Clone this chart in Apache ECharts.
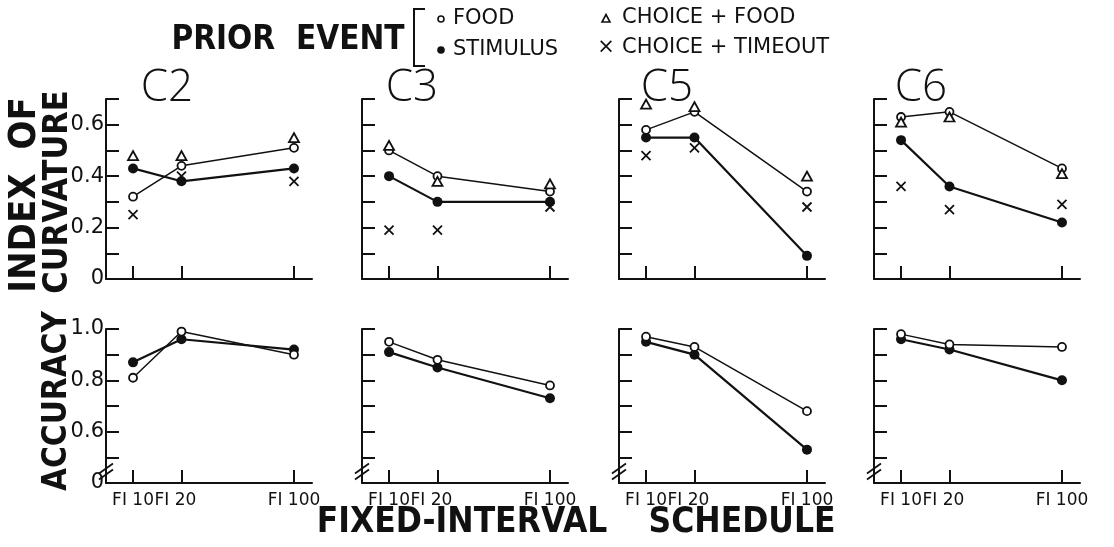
<!DOCTYPE html>
<html>
<head>
<meta charset="utf-8">
<script src="https://cdn.jsdelivr.net/npm/echarts@6/dist/echarts.min.js"></script>
<style>
  html, body { margin: 0; padding: 0; background: #fff; }
  #chart { width: 1114px; height: 547px; }
</style>
</head>
<body>
<div id="chart"></div>
<script>
// Fixed-interval schedules (seconds) and their tick labels
const schedules = [10, 20, 100];
const scheduleLabels = ['FI 10', 'FI 20', 'FI 100'];
const subjects = ['C2', 'C3', 'C5', 'C6'];

// Index of curvature by prior event, one row per subject (FI 10, FI 20, FI 100)
const curvFood = [[0.32, 0.44, 0.51], [0.50, 0.40, 0.34], [0.58, 0.65, 0.34], [0.63, 0.65, 0.43]];
const curvStimulus = [[0.43, 0.38, 0.43], [0.40, 0.30, 0.30], [0.55, 0.55, 0.09], [0.54, 0.36, 0.22]];
const curvChoiceFood = [[0.48, 0.48, 0.55], [0.52, 0.38, 0.37], [0.68, 0.67, 0.40], [0.61, 0.63, 0.41]];
const curvChoiceTimeout = [[0.25, 0.40, 0.38], [0.19, 0.19, 0.28], [0.48, 0.51, 0.28], [0.36, 0.27, 0.29]];

// Accuracy by prior event
const accFood = [[0.81, 0.99, 0.90], [0.95, 0.88, 0.78], [0.97, 0.93, 0.68], [0.98, 0.94, 0.93]];
const accStimulus = [[0.87, 0.96, 0.92], [0.91, 0.85, 0.73], [0.95, 0.90, 0.53], [0.96, 0.92, 0.80]];

const curvTickLabels = ['0', '0.2', '0.4', '0.6'];
const accTickLabels = ['0', '0.6', '0.8', '1.0'];

const INK = '#111';
const FONT = "'DejaVu Sans', 'Liberation Sans', sans-serif";
const BOLD_FONT = "'DejaVu Sans Condensed', 'Liberation Sans Narrow', 'DejaVu Sans', sans-serif";

const logX = schedules.map(s => Math.log10(s));
const X_MIN = 0.832, X_MAX = 2.112;

const chart = echarts.init(document.getElementById('chart'), null, { renderer: 'canvas' });

const colLefts = [106, 362, 619, 874];
const grids = [];
const xAxes = [];
const yAxes = [];
const series = [];

function pts(row) { return row.map((v, i) => [logX[i], v]); }

// The FI 20 label is nudged left, away from the wide FI 100 gap
const labelStyles = ['s0', 's1', 's2'];
function labelFor(v) {
  let best = 0;
  logX.forEach((lx, i) => { if (Math.abs(lx - v) < Math.abs(logX[best] - v)) best = i; });
  return '{' + labelStyles[best] + '|' + scheduleLabels[best] + '}';
}
const labelRich = {
  s0: { fontFamily: FONT, fontSize: 17, color: INK },
  s1: { fontFamily: FONT, fontSize: 17, color: INK, padding: [0, 12, 0, 0] },
  s2: { fontFamily: FONT, fontSize: 17, color: INK }
};

const xMark = 'path://M0,0L10,10M10,0L0,10';

for (let row = 0; row < 2; row++) {
  for (let c = 0; c < 4; c++) {
    const gi = row * 4 + c;
    grids.push(row === 0
      ? { left: colLefts[c], top: 99, width: 206, height: 180 }
      : { left: colLefts[c], top: 329, width: 206, height: 154 });

    xAxes.push({
      gridIndex: gi, type: 'value', min: X_MIN, max: X_MAX,
      axisLine: { show: true, onZero: false, lineStyle: { color: INK, width: 2 } },
      axisTick: { show: true, inside: true, length: 13, customValues: logX, lineStyle: { color: INK, width: 2 } },
      axisLabel: {
        show: row === 1, customValues: logX, formatter: v => labelFor(v), rich: labelRich,
        color: INK, fontFamily: FONT, fontSize: 17, margin: 9, hideOverlap: false
      },
      splitLine: { show: false }
    });

    const tickLabels = row === 0 ? curvTickLabels : accTickLabels;
    yAxes.push({
      gridIndex: gi, type: 'value',
      min: row === 0 ? 0 : 0.4, max: row === 0 ? 0.7 : 1.0, interval: 0.1,
      axisLine: { show: true, lineStyle: { color: INK, width: 2 } },
      axisTick: { show: true, inside: true, length: 13, lineStyle: { color: INK, width: 2 } },
      axisLabel: {
        show: c === 0, color: INK, fontFamily: FONT, fontSize: 21, margin: 2,
        formatter: v => {
          const k = Math.round(v * 10);
          if (row === 0) return k % 2 === 0 ? tickLabels[k / 2] : '';
          if (k === 4) return tickLabels[0];
          if (k === 6) return tickLabels[1];
          if (k === 8) return tickLabels[2];
          if (k === 10) return tickLabels[3];
          return '';
        }
      },
      splitLine: { show: false }
    });

    const food = row === 0 ? curvFood[c] : accFood[c];
    const stim = row === 0 ? curvStimulus[c] : accStimulus[c];

    series.push({
      name: 'STIMULUS', type: 'line', xAxisIndex: gi, yAxisIndex: gi,
      data: pts(stim), symbol: 'circle', symbolSize: 10,
      lineStyle: { color: INK, width: 2.2 }, itemStyle: { color: INK, opacity: 1 },
      z: 3, silent: true, animation: false
    });
    series.push({
      name: 'FOOD', type: 'line', xAxisIndex: gi, yAxisIndex: gi,
      data: pts(food), symbol: 'circle', symbolSize: 8,
      lineStyle: { color: INK, width: 1.5 },
      itemStyle: { color: '#fff', borderColor: INK, borderWidth: 1.8, opacity: 1 },
      z: 4, silent: true, animation: false
    });
    if (row === 0) {
      series.push({
        name: 'CHOICE + FOOD', type: 'scatter', xAxisIndex: gi, yAxisIndex: gi,
        data: pts(curvChoiceFood[c]), symbol: 'triangle', symbolSize: [10, 9],
        itemStyle: { color: '#fff', borderColor: INK, borderWidth: 1.8, opacity: 1 },
        z: 5, silent: true, animation: false
      });
      series.push({
        name: 'CHOICE + TIMEOUT', type: 'scatter', xAxisIndex: gi, yAxisIndex: gi,
        data: pts(curvChoiceTimeout[c]), symbol: xMark, symbolSize: 9,
        itemStyle: { color: 'none', borderColor: INK, borderWidth: 1.8, opacity: 1 },
        z: 5, silent: true, animation: false
      });
    }
  }
}

const titleFont = { fontFamily: "'Open Sans', 'DejaVu Sans', sans-serif", fontWeight: 300, fontSize: 44, fill: INK };
const graphics = [];

// Panel titles
const titleX = [167, 412, 667, 921];
subjects.forEach((s, i) => {
  graphics.push({ type: 'text', x: titleX[i], y: 88, style: Object.assign({ text: s, align: 'center', verticalAlign: 'middle' }, titleFont) });
});

// Legend block
graphics.push({ type: 'text', x: 288, y: 40, style: { text: 'PRIOR  EVENT', align: 'center', verticalAlign: 'middle', fontFamily: BOLD_FONT, fontWeight: 'bold', fontSize: 33, fill: INK } });
graphics.push({ type: 'polyline', shape: { points: [[425, 9], [414, 9], [414, 66], [425, 66]] }, style: { stroke: INK, lineWidth: 2, fill: null } });
const legFont = { fontFamily: FONT, fontSize: 21, fill: INK, verticalAlign: 'middle' };
graphics.push({ type: 'circle', shape: { cx: 441, cy: 19, r: 3 }, style: { fill: '#fff', stroke: INK, lineWidth: 1.6 } });
graphics.push({ type: 'text', x: 453, y: 19, style: Object.assign({ text: 'FOOD' }, legFont) });
graphics.push({ type: 'circle', shape: { cx: 441, cy: 50, r: 3.8 }, style: { fill: INK } });
graphics.push({ type: 'text', x: 453, y: 50, style: Object.assign({ text: 'STIMULUS' }, legFont) });
graphics.push({ type: 'polygon', shape: { points: [[602, 22], [610, 22], [606, 14.5]] }, style: { fill: '#fff', stroke: INK, lineWidth: 1.6 } });
graphics.push({ type: 'text', x: 622, y: 18, style: Object.assign({ text: 'CHOICE + FOOD' }, legFont) });
graphics.push({ type: 'text', x: 606, y: 48, style: Object.assign({ text: '×', align: 'center', fontSize: 18 }, legFont) });
graphics.push({ type: 'text', x: 622, y: 48, style: Object.assign({ text: 'CHOICE + TIMEOUT' }, legFont) });

// Axis names
const axisNameFont = { fontFamily: BOLD_FONT, fontWeight: 'bold', fill: INK, align: 'center', verticalAlign: 'middle' };
graphics.push({ type: 'text', x: 25, y: 195, rotation: Math.PI / 2, style: Object.assign({ text: 'INDEX  OF', fontSize: 38 }, axisNameFont) });
graphics.push({ type: 'text', x: 58, y: 192, rotation: Math.PI / 2, style: Object.assign({ text: 'CURVATURE', fontSize: 34 }, axisNameFont) });
graphics.push({ type: 'text', x: 57, y: 401, rotation: Math.PI / 2, style: Object.assign({ text: 'ACCURACY', fontSize: 33 }, axisNameFont) });
graphics.push({ type: 'text', x: 462, y: 523, style: Object.assign({ text: 'FIXED-INTERVAL', fontSize: 35 }, axisNameFont) });
graphics.push({ type: 'text', x: 742, y: 523, style: Object.assign({ text: 'SCHEDULE', fontSize: 35 }, axisNameFont) });

chart.setOption({
  animation: false,
  backgroundColor: '#fff',
  grid: grids,
  xAxis: xAxes,
  yAxis: yAxes,
  series: series,
  graphic: graphics
});

// Axis-break marks on the accuracy axes, placed between 0 and 0.5
const breaks = [];
for (let c = 0; c < 4; c++) {
  const p = chart.convertToPixel({ gridIndex: 4 + c }, [X_MIN, 0.445]);
  [-3, 3].forEach(d => {
    breaks.push({ type: 'line', shape: { x1: p[0] - 7, y1: p[1] + d + 5, x2: p[0] + 7, y2: p[1] + d - 5 }, style: { stroke: INK, lineWidth: 1.8 } });
  });
}
chart.setOption({ graphic: graphics.concat(breaks) });
</script>
</body>
</html>
